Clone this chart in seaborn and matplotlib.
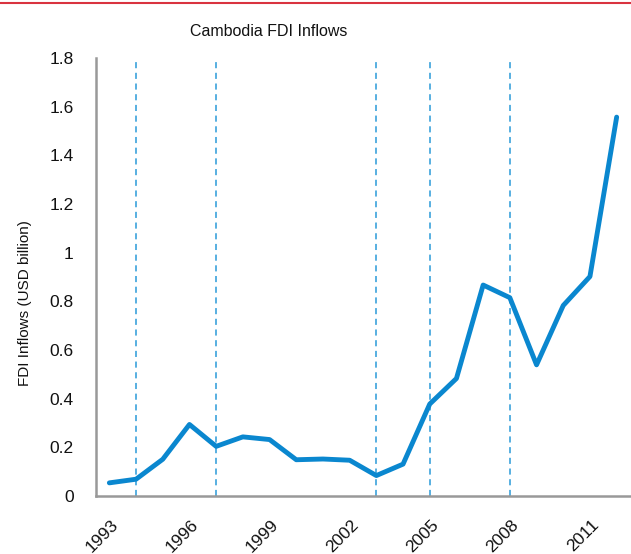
import numpy as np
import pandas as pd
import matplotlib
matplotlib.use("Agg")
import matplotlib.pyplot as plt
import matplotlib.transforms as mtrans
import seaborn as sb
from matplotlib.ticker import FixedLocator

years = list(range(1993, 2013))
fdi = [0.054, 0.069, 0.151, 0.294, 0.204, 0.243, 0.232, 0.149, 0.152, 0.147,
       0.084, 0.131, 0.378, 0.483, 0.867, 0.815, 0.539, 0.783, 0.902, 1.557]
marker_years = [1994, 1997, 2003, 2005, 2008]
label_years = [1993, 1996, 1999, 2002, 2005, 2008, 2011]

sb.set_style("white")
plt.rcParams['font.family'] = ['Liberation Sans', 'DejaVu Sans']

df = pd.DataFrame({'year': years, 'fdi': fdi})

fig = plt.figure(figsize=(6.31, 5.54), dpi=100)
ax = fig.add_axes([96 / 631, 58 / 554, 534 / 631, 438 / 554])

for yr in marker_years:
    ax.axvline(yr, color='#2a9ad8', lw=1.1, ls=(0, (4, 3)), zorder=1)

sb.lineplot(data=df, x='year', y='fdi', ax=ax, color='#0a87cf', lw=3.5, zorder=3)

ax.set_xlim(1992.5, 2012.5)
ax.set_ylim(0, 1.8)
ax.set_yticks(np.arange(0, 1.81, 0.2))
ax.set_yticklabels(['0', '0.2', '0.4', '0.6', '0.8', '1', '1.2', '1.4', '1.6', '1.8'],
                   fontsize=12.5, color='#111111')
ax.set_xticks(label_years)
ax.set_xticklabels([str(y) for y in label_years], rotation=45, ha='right',
                   rotation_mode='anchor', fontsize=12.5, color='#111111')
ax.xaxis.set_minor_locator(FixedLocator(np.arange(1993.5, 2012.5, 1)))
ax.tick_params(axis='x', which='major', length=0, pad=15)
ax.tick_params(axis='x', which='minor', direction='in', length=5, width=1, color='#999999')
ax.tick_params(axis='y', length=0, pad=16)
shift = mtrans.ScaledTranslation(1 / 100, 0, fig.dpi_scale_trans)
for lbl in ax.get_xticklabels():
    lbl.set_transform(lbl.get_transform() + shift)

for s in ['top', 'right']:
    ax.spines[s].set_visible(False)
for s in ['left', 'bottom']:
    ax.spines[s].set_color('#999999')
    ax.spines[s].set_linewidth(1.8)

ax.set_xlabel('')
ax.set_ylabel('FDI Inflows (USD billion)', fontsize=11, labelpad=10, color='#111111')
ax.yaxis.set_label_coords(-0.12, (496 - 303) / 438)

fig.text(269 / 631, 1 - 32 / 554, 'Cambodia FDI Inflows', ha='center', va='center',
         fontsize=11.5, color='#111111')
fig.add_artist(plt.Line2D([0, 1], [1 - 3 / 554, 1 - 3 / 554], color='#d9333f', lw=1.5,
                          transform=fig.transFigure))

fig.savefig('out.png', dpi=100)
